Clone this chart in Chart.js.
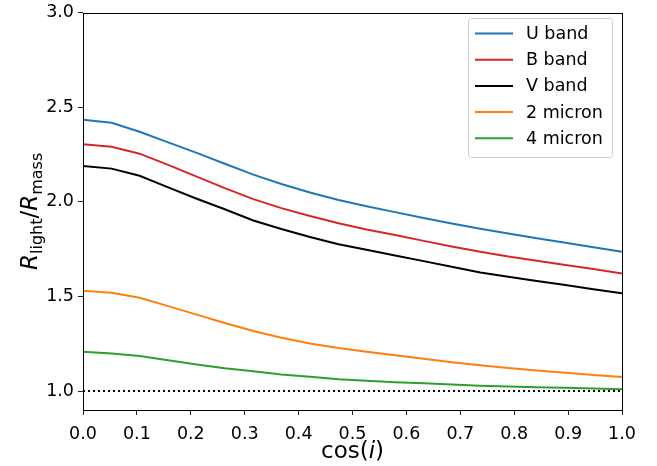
<!DOCTYPE html>
<html>
<head>
<meta charset="utf-8">
<script src="https://cdn.jsdelivr.net/npm/chart.js@4.4.1/dist/chart.umd.min.js"></script>
<style>
  html, body { margin: 0; padding: 0; background: #fff; }
  #wrap { width: 657px; height: 466px; position: relative; }
</style>
</head>
<body>
<div id="wrap"><canvas id="chart"></canvas></div>
<script>
// inclination grid, cos(i)
const cosI = [0, 0.053, 0.105, 0.158, 0.211, 0.263, 0.316, 0.368, 0.421, 0.474,
  0.526, 0.579, 0.632, 0.684, 0.737, 0.789, 0.842, 0.895, 0.947, 1.0];

// R_light / R_mass per band
const uBand = [2.435, 2.418, 2.371, 2.315, 2.259, 2.202, 2.144, 2.095, 2.050, 2.010,
  1.977, 1.946, 1.915, 1.886, 1.858, 1.833, 1.808, 1.784, 1.760, 1.737];
const bBand = [2.305, 2.292, 2.255, 2.196, 2.134, 2.073, 2.015, 1.967, 1.926, 1.887,
  1.854, 1.825, 1.794, 1.764, 1.736, 1.711, 1.689, 1.667, 1.645, 1.622];
const vBand = [2.190, 2.176, 2.138, 2.077, 2.017, 1.961, 1.902, 1.857, 1.815, 1.776,
  1.747, 1.717, 1.687, 1.657, 1.627, 1.604, 1.582, 1.561, 1.538, 1.517];
const micron2 = [1.531, 1.520, 1.493, 1.449, 1.404, 1.360, 1.318, 1.282, 1.252, 1.228,
  1.208, 1.190, 1.171, 1.153, 1.137, 1.122, 1.109, 1.097, 1.085, 1.074];
const micron4 = [1.208, 1.199, 1.185, 1.163, 1.141, 1.121, 1.105, 1.088, 1.076, 1.063,
  1.055, 1.047, 1.041, 1.035, 1.028, 1.024, 1.020, 1.017, 1.013, 1.010];

const unity = 1.0;

const seriesLabels = ['U band', 'B band', 'V band', '2 micron', '4 micron'];
const seriesColors = ['#1f77b4', '#d62728', '#000000', '#ff7f0e', '#2ca02c'];
const seriesValues = [uBand, bBand, vBand, micron2, micron4];

const xTicks = [0, 0.1, 0.2, 0.3, 0.4, 0.5, 0.6, 0.7, 0.8, 0.9, 1.0];
const yTicks = [1.0, 1.5, 2.0, 2.5, 3.0];

const FONT = '"DejaVu Sans", sans-serif';

const toPoints = (ys) => ys.map((y, i) => ({ x: cosI[i], y: y }));

const datasets = seriesValues.map((ys, k) => ({
  label: seriesLabels[k],
  data: toPoints(ys),
  borderColor: seriesColors[k],
  backgroundColor: seriesColors[k],
  borderWidth: 2,
  pointRadius: 0,
  tension: 0,
  fill: false
}));

// dotted reference line at R_light = R_mass
datasets.push({
  label: '_unity',
  data: [{ x: cosI[0], y: unity }, { x: cosI[cosI.length - 1], y: unity }],
  borderColor: '#000',
  borderWidth: 2,
  borderDash: [2, 3],
  pointRadius: 0,
  fill: false
});

// frame, axis titles and legend box
const decorations = {
  id: 'decorations',
  afterDraw(chart) {
    const ctx = chart.ctx;
    const a = chart.chartArea;
    ctx.save();

    // spines
    ctx.strokeStyle = '#000';
    ctx.lineWidth = 1;
    ctx.strokeRect(Math.round(a.left) + 0.5, Math.round(a.top) + 0.5,
      Math.round(a.right - a.left), Math.round(a.bottom - a.top));

    // x title: cos(i)
    ctx.fillStyle = '#000';
    ctx.textBaseline = 'alphabetic';
    const big = 23;
    const parts = [
      { t: 'cos(', f: `${big}px ${FONT}` },
      { t: 'i', f: `italic ${big}px ${FONT}` },
      { t: ')', f: `${big}px ${FONT}` }
    ];
    let w = 0;
    parts.forEach(p => { ctx.font = p.f; p.w = ctx.measureText(p.t).width; w += p.w; });
    let x = (a.left + a.right) / 2 - w / 2;
    parts.forEach(p => { ctx.font = p.f; ctx.fillText(p.t, x, 458); x += p.w; });

    // y title: R_light / R_mass
    const small = Math.round(big * 0.7);
    const yparts = [
      { t: 'R', f: `italic ${big}px ${FONT}`, dy: 0 },
      { t: 'light', f: `${small}px ${FONT}`, dy: 5 },
      { t: '/', f: `${big}px ${FONT}`, dy: 0 },
      { t: 'R', f: `italic ${big}px ${FONT}`, dy: 0 },
      { t: 'mass', f: `${small}px ${FONT}`, dy: 5 }
    ];
    w = 0;
    yparts.forEach(p => { ctx.font = p.f; p.w = ctx.measureText(p.t).width; w += p.w; });
    ctx.save();
    ctx.translate(37, (a.top + a.bottom) / 2);
    ctx.rotate(-Math.PI / 2);
    x = -w / 2;
    yparts.forEach(p => { ctx.font = p.f; ctx.fillText(p.t, x, p.dy); x += p.w; });
    ctx.restore();

    // legend
    const lx = 468, ly = 18, lw = 144, lh = 139;
    ctx.fillStyle = 'rgba(255,255,255,0.8)';
    ctx.strokeStyle = '#cccccc';
    ctx.lineWidth = 1;
    ctx.beginPath();
    ctx.roundRect(lx + 0.5, ly + 0.5, lw, lh, 3);
    ctx.fill();
    ctx.stroke();
    ctx.font = `17.5px ${FONT}`;
    ctx.textBaseline = 'middle';
    seriesLabels.forEach((lab, k) => {
      const ry = 33.5 + k * 26.2;
      ctx.strokeStyle = seriesColors[k];
      ctx.lineWidth = 2;
      ctx.beginPath();
      ctx.moveTo(475, ry);
      ctx.lineTo(513, ry);
      ctx.stroke();
      ctx.fillStyle = '#000';
      ctx.fillText(lab, 526, ry + 1);
    });

    ctx.restore();
  }
};

new Chart(document.getElementById('chart'), {
  type: 'line',
  data: { datasets: datasets },
  options: {
    responsive: true,
    maintainAspectRatio: false,
    animation: false,
    layout: { padding: { left: 0, right: 35, top: 11, bottom: 0 } },
    plugins: {
      legend: { display: false },
      tooltip: { enabled: false }
    },
    scales: {
      x: {
        type: 'linear',
        min: 0,
        max: 1,
        afterBuildTicks: (scale) => { scale.ticks = xTicks.map(v => ({ value: v })); },
        afterFit: (scale) => { scale.height = 56; },
        border: { display: false },
        grid: { drawOnChartArea: false, drawTicks: true, tickLength: 5, color: '#222' },
        ticks: {
          color: '#000',
          padding: 9,
          maxRotation: 0,
          font: { family: FONT, size: 17.5 },
          callback: (v) => Number(v).toFixed(1)
        }
      },
      y: {
        type: 'linear',
        min: 0.9,
        max: 3.0,
        afterBuildTicks: (scale) => { scale.ticks = yTicks.map(v => ({ value: v })); },
        afterFit: (scale) => { scale.width = 83; },
        border: { display: false },
        grid: { drawOnChartArea: false, drawTicks: true, tickLength: 5, color: '#222' },
        ticks: {
          color: '#000',
          padding: 4,
          font: { family: FONT, size: 17.5, lineHeight: 1 },
          callback: (v) => Number(v).toFixed(1)
        }
      }
    }
  },
  plugins: [decorations]
});
</script>
</body>
</html>
